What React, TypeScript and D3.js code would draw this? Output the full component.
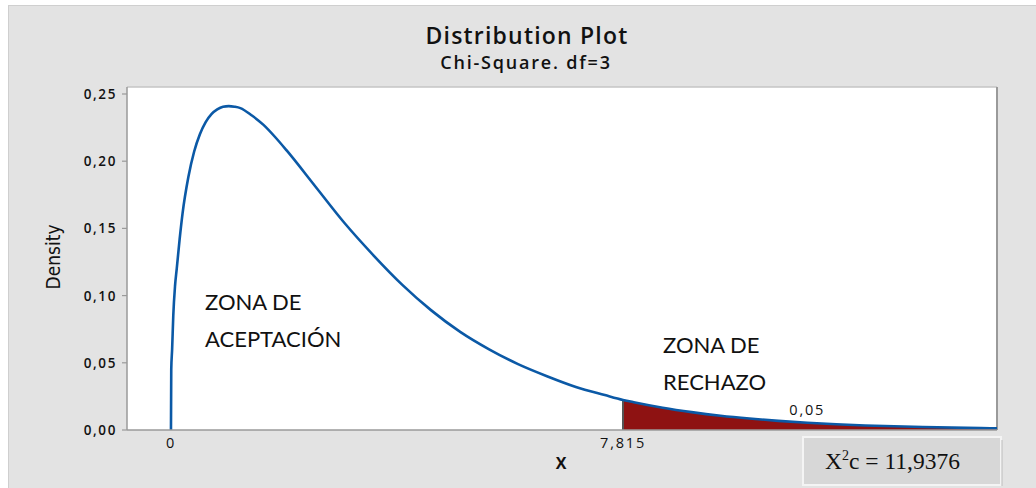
import React from 'react';
import * as d3 from 'd3';

// ─── data ───
const xValues = [
  0, 0.005, 0.02, 0.04, 0.07, 0.1, 0.15, 0.2, 0.3, 0.4, 0.5, 0.6, 0.7, 0.8, 0.9, 1.0,
  1.1, 1.2, 1.4, 1.6, 1.8, 2.0, 2.5, 3.0, 3.5, 4.0, 4.5, 5.0, 5.5, 6.0, 6.5, 7.0, 7.5,
  7.815, 8.0, 8.5, 9.0, 9.5, 10, 10.5, 11, 11.5, 12, 13, 14, 14.3,
];
const densityValues = [
  0, 0.045, 0.06, 0.085, 0.107, 0.12, 0.142, 0.161, 0.188, 0.207, 0.22, 0.229, 0.235, 0.2385, 0.2405, 0.241,
  0.2405, 0.2395, 0.234, 0.227, 0.218, 0.208, 0.181, 0.154, 0.13, 0.108, 0.089, 0.073, 0.06, 0.049, 0.04, 0.032, 0.026,
  0.0224, 0.0207, 0.0166, 0.0133, 0.0106, 0.0085, 0.0068, 0.0054, 0.0043, 0.0034, 0.0022, 0.0014, 0.0012,
];
const yTicks = [0, 0.05, 0.1, 0.15, 0.2, 0.25];
const xMarks = [0, 7.815];
const criticalValue = 7.815;
const alphaLabel = '0,05';
const alphaLabelX = 11.0;
const xDomain = [-0.76, 14.28];
const yDomain = [0, 0.2552];
const statValue = '11,9376';

const W = 1036;
const H = 488;
const plot = { left: 127, right: 997, top: 87, bottom: 430 };

const BLUE = '#0b59a6';
const RED = '#8e1212';
const AXIS = '#9a9a9a';
const fmt = (v: number) => d3.format('.2f')(v).replace('.', ',');
const fmtX = (v: number) => (v === 0 ? '0' : String(v).replace('.', ','));

export default function App() {
  const x = d3.scaleLinear().domain(xDomain).range([plot.left, plot.right]);
  const y = d3.scaleLinear().domain(yDomain).range([plot.bottom, plot.top]);

  const pts = xValues.map((v, i) => [v, densityValues[i]] as [number, number]);
  const line = d3.line<[number, number]>()
    .x(d => x(d[0]))
    .y(d => y(d[1]))
    .curve(d3.curveMonotoneX);
  const area = d3.area<[number, number]>()
    .x(d => x(d[0]))
    .y0(y(0))
    .y1(d => y(d[1]))
    .curve(d3.curveMonotoneX);
  const tail = pts.filter(d => d[0] >= criticalValue);
  const critY = densityValues[xValues.indexOf(criticalValue)];

  const tickFont = "'Open Sans', 'DejaVu Sans', sans-serif";
  const zoneFont = "Lato, 'Open Sans', sans-serif";

  return (
    <svg width={W} height={H} style={{ position: 'absolute', left: 0, top: 0, background: '#fff' }}>
      <defs>
        <clipPath id="plotClip">
          <rect x={plot.left} y={plot.top} width={plot.right - plot.left} height={plot.bottom - plot.top} />
        </clipPath>
      </defs>

      {/* outer panel */}
      <rect x={8.5} y={5.5} width={W - 8} height={H - 5} fill="#e3e3e3" stroke="#cfcfcf" />

      {/* title */}
      <text x={527} y={44} textAnchor="middle" fontFamily={tickFont} fontWeight={600}
        fontSize={23} letterSpacing={1.2} fill="#111">Distribution Plot</text>
      <text x={526} y={69} textAnchor="middle" fontFamily={tickFont} fontWeight={600}
        fontSize={18} letterSpacing={1.8} fill="#111">Chi-Square. df=3</text>

      {/* plot area */}
      <rect x={plot.left} y={plot.top} width={plot.right - plot.left} height={plot.bottom - plot.top} fill="#fff" />
      <line x1={plot.left} x2={plot.right} y1={plot.top} y2={plot.top} stroke="#c4c4c4" strokeWidth={1.5} />
      <line x1={plot.right} x2={plot.right} y1={plot.top} y2={plot.bottom} stroke={AXIS} strokeWidth={2} />

      {/* rejection area */}
      <g clipPath="url(#plotClip)">
        <path d={area(tail) ?? ''} fill={RED} />
        <line x1={x(criticalValue)} x2={x(criticalValue)} y1={y(0)} y2={y(critY)} stroke="#555" strokeWidth={2} />
        <path d={line(pts) ?? ''} fill="none" stroke={BLUE} strokeWidth={2.6} strokeLinejoin="round" />
      </g>

      {/* y axis */}
      <line x1={plot.left} x2={plot.left} y1={plot.top} y2={plot.bottom} stroke={AXIS} strokeWidth={1.5} />
      {yTicks.map(t => (
        <g key={t}>
          <line x1={plot.left - 5} x2={plot.left} y1={y(t)} y2={y(t)} stroke={AXIS} strokeWidth={1.2} />
          <text x={117} y={y(t) + 5} textAnchor="end" fontFamily={tickFont} fontWeight={600}
            fontSize={13.5} letterSpacing={1.6} fill="#111">{fmt(t)}</text>
        </g>
      ))}
      <text transform={`translate(60,257) rotate(-90)`} textAnchor="middle"
        fontFamily="'Liberation Sans Narrow', 'DejaVu Sans Condensed', 'Roboto', sans-serif"
        fontSize={19} fill="#111">Density</text>

      {/* x axis */}
      <line x1={plot.left} x2={plot.right} y1={plot.bottom} y2={plot.bottom} stroke={AXIS} strokeWidth={1.5} />
      {xMarks.map(t => (
        <text key={t} x={x(t)} y={448} textAnchor="middle" fontFamily={tickFont}
          fontSize={14.5} letterSpacing={1.8} fill="#111">{fmtX(t)}</text>
      ))}
      <text x={561} y={469} textAnchor="middle" fontFamily={tickFont} fontWeight={700}
        fontSize={16} fill="#111">X</text>

      {/* alpha label */}
      <text x={x(alphaLabelX)} y={415} textAnchor="middle" fontFamily={tickFont}
        fontSize={14.5} letterSpacing={1.8} fill="#111">{alphaLabel}</text>

      {/* zone labels */}
      <g fontFamily={zoneFont} fontSize={22} fill="#111">
        <text x={205} y={310}>ZONA DE</text>
        <text x={205} y={347}>ACEPTACIÓN</text>
        <text x={663} y={353}>ZONA DE</text>
        <text x={663} y={390}>RECHAZO</text>
      </g>

      {/* statistic box */}
      <rect x={803} y={437} width={198} height={48} fill="#d7d7d7" stroke="#f4f4f4" strokeWidth={2} />
      <line x1={1002} x2={1002} y1={440} y2={486} stroke="#bdbdbd" strokeWidth={1} />
      <text x={825} y={469} fontFamily="'Liberation Serif', 'DejaVu Serif', serif" fontSize={23.5} fill="#111">
        X<tspan dy={-9} fontSize={14}>2</tspan><tspan dy={9}>c = {statValue}</tspan>
      </text>
    </svg>
  );
}
